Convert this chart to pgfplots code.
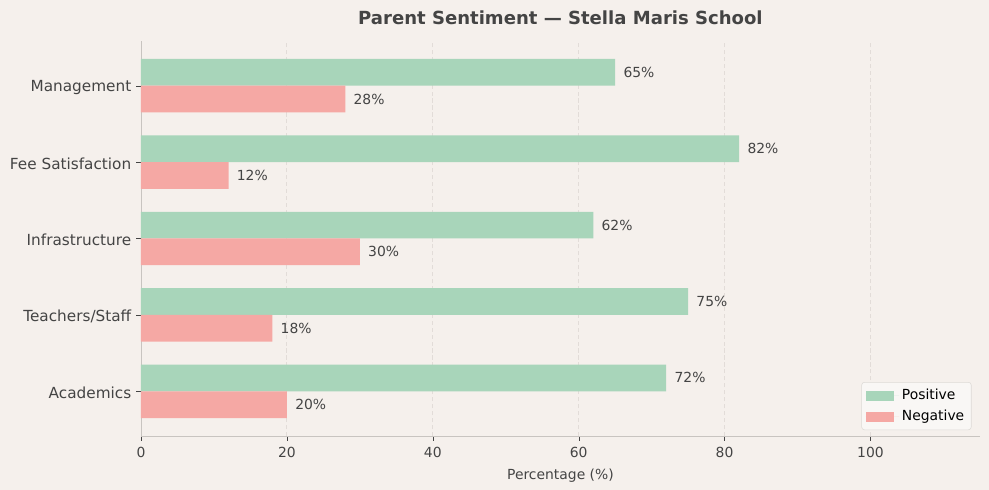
\documentclass[border=0pt]{standalone}
\usepackage{fontspec}
\setmainfont{DejaVu Sans}
\usepackage{pgfplots}
\pgfplotsset{compat=1.18}
\usetikzlibrary{backgrounds}

\definecolor{bg}{HTML}{F5F0EC}
\definecolor{pos}{HTML}{A8D5BA}
\definecolor{neg}{HTML}{F5A8A4}
\definecolor{txt}{HTML}{444444}
\definecolor{spine}{HTML}{C8C4C0}
\definecolor{gridc}{HTML}{E2DCD8}
\definecolor{legbg}{HTML}{F9F7F5}
\definecolor{legdraw}{HTML}{DDDAD6}

\begin{document}
\begin{tikzpicture}
\begin{axis}[
  scale only axis, width=604pt, height=284.4pt,
  xbar, bar width=0.35,
  xmin=0, xmax=115, ymin=-0.585, ymax=4.585,
  enlargelimits=false,
  axis x line*=bottom, axis y line*=left,
  axis line style={spine},
  tick align=outside, major tick length=3.5pt,
  tick style={txt},
  xtick={0,20,...,100},
  ytick={0,...,4},
  yticklabels={Academics,Teachers/Staff,Infrastructure,Fee Satisfaction,Management},
  /pgf/number format/assume math mode=true,
  xticklabel style={font=\fontsize{10}{12}\selectfont, text=txt, yshift=-1pt},
  yticklabel style={font=\fontsize{11}{13}\selectfont, text=txt, yshift=-1.3pt},
  xmajorgrids, grid style={dash pattern=on 3pt off 2pt, gridc, line width=0.6pt},
  title={Parent Sentiment — Stella Maris School},
  title style={at={(0.5,1)}, anchor=base, yshift=5.7pt,
    font=\fontsize{13}{15}\selectfont\bfseries, text=txt},
  xlabel={Percentage (\%)},
  xlabel style={at={(0.5,0)}, anchor=base, yshift=-31pt,
    font=\fontsize{10}{12}\selectfont, text=txt},
  nodes near coords={\pgfmathprintnumber{\pgfplotspointmeta}\%},
  nodes near coords align={horizontal},
  every node near coord/.append style={font=\fontsize{10}{12}\selectfont, text=txt, xshift=2.5pt},
  legend style={at={(0.99,0.015)}, anchor=south east, fill=legbg, draw=legdraw,
    rounded corners=2pt, font=\fontsize{10}{12}\selectfont, text=black,
    row sep=2pt, inner sep=3pt},
  legend cell align=left,
  legend image code/.code={\fill[#1, sharp corners] (0pt,-3.6pt) rectangle (20pt,3.6pt); \path (0pt,0pt) -- (24pt,0pt);},
]
\addplot[draw=none, fill=pos, bar shift=0.175] coordinates {(72,0) (75,1) (62,2) (82,3) (65,4)};
\addlegendentry{Positive}
\addplot[draw=none, fill=neg, bar shift=-0.175] coordinates {(20,0) (18,1) (30,2) (12,3) (28,4)};
\addlegendentry{Negative}
\end{axis}
\begin{scope}[on background layer]
\fill[bg] (-101.52pt,-38.88pt) rectangle (610.56pt,313.92pt);
\end{scope}
\pgfresetboundingbox
\path[use as bounding box] (-101.52pt,-38.88pt) rectangle (610.56pt,313.92pt);
\end{tikzpicture}
\end{document}
